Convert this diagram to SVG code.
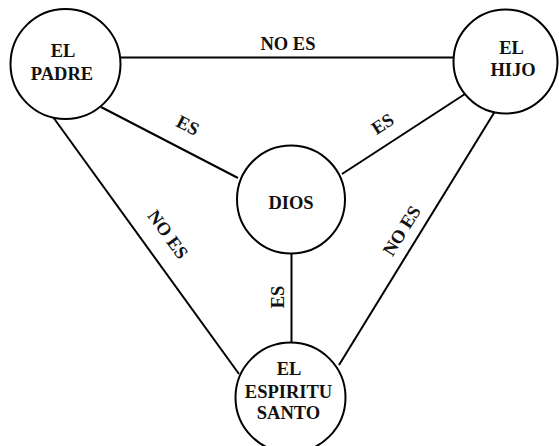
<svg xmlns="http://www.w3.org/2000/svg" width="559" height="446" viewBox="0 0 559 446">
<style>
.n{fill:#fff;stroke:#000;stroke-width:2}
.c{stroke:#000;stroke-width:2;fill:none}
text{font-family:"Liberation Serif","Times New Roman",serif;font-weight:bold;font-size:18.5px;fill:#111;text-anchor:middle}
</style>
<rect width="559" height="446" fill="#fff"/>
<g id="connectors">
<line class="c" x1="121" y1="57.5" x2="455" y2="57.5" stroke-width="2.5"/>
<line class="c" x1="101" y1="107" x2="238" y2="178"/>
<line class="c" x1="465" y1="94" x2="342" y2="174"/>
<line class="c" x1="53" y1="117" x2="239" y2="374"/>
<line class="c" x1="497" y1="108" x2="339" y2="365"/>
<line class="c" x1="291.5" y1="253" x2="291.5" y2="342"/>
<text x="288" y="50">NO ES</text>
<text transform="translate(185,131) rotate(27)">ES</text>
<text transform="translate(386,129) rotate(-33)">ES</text>
<text transform="translate(163,238) rotate(54)">NO ES</text>
<text transform="translate(407,234) rotate(-58)">NO ES</text>
<text transform="translate(284,297) rotate(-90)">ES</text>
</g>
<g id="padre">
<circle class="n" cx="65.5" cy="64" r="55"/>
<text x="63" y="57">EL</text>
<text x="62" y="79.5">PADRE</text>
</g>
<g id="hijo">
<circle class="n" cx="505.5" cy="61.5" r="52"/>
<text x="511.5" y="53.5">EL</text>
<text x="513" y="76">HIJO</text>
</g>
<g id="dios">
<circle class="n" cx="291" cy="199.5" r="54"/>
<text x="291" y="209">DIOS</text>
</g>
<g id="espiritu">
<circle class="n" cx="290.5" cy="397.5" r="55"/>
<text x="289" y="375">EL</text>
<text x="288.5" y="398">ESPIRITU</text>
<text x="288.5" y="418.5">SANTO</text>
</g>
</svg>
